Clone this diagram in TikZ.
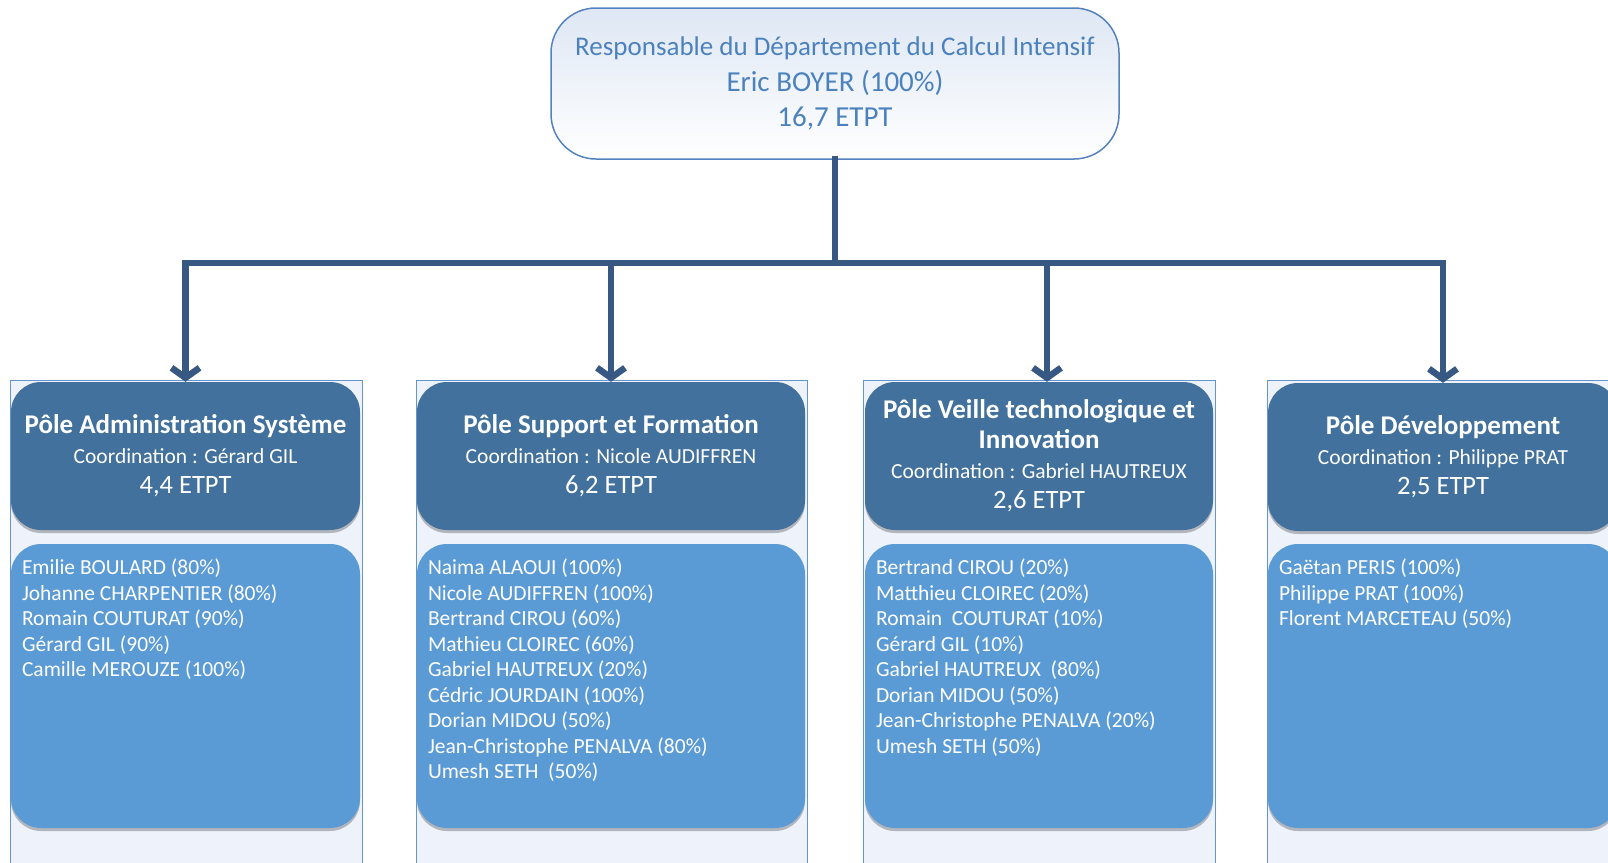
\documentclass[tikz,border=0pt]{standalone}
\usepackage{fontspec}
\setmainfont{Carlito}
\usetikzlibrary{arrows.meta,shadows}
\definecolor{poledark}{RGB}{65,113,156}
\definecolor{polelight}{RGB}{91,155,213}
\definecolor{framefill}{RGB}{238,242,250}
\definecolor{frameline}{RGB}{100,150,205}
\definecolor{linkblue}{RGB}{56,88,132}
\definecolor{topline}{RGB}{84,130,190}
\definecolor{toptext}{RGB}{75,130,190}
\definecolor{topshade}{RGB}{222,231,244}
\begin{document}
\begin{tikzpicture}[x=1pt,y=-1pt,
    topbox/.style={draw=topline,line width=1.5pt,rounded corners=45pt,top color=topshade,bottom color=white,
      minimum width=568pt,minimum height=151pt,inner sep=0pt,align=center,text=toptext,
      font=\fontsize{29}{35.5}\selectfont},
    frame/.style={draw=frameline,line width=1pt,fill=framefill,minimum height=500pt,inner sep=0pt},
    polehead/.style={fill=poledark,rounded corners=30pt,minimum height=148pt,inner sep=0pt,align=center,
      text=white,font=\fontsize{26.5}{30}\selectfont,
      drop shadow={shadow xshift=0pt,shadow yshift=-3pt,opacity=0.25,fill=black}},
    polebody/.style={fill=polelight,rounded corners=30pt,minimum height=284pt,inner sep=0pt,
      drop shadow={shadow xshift=0pt,shadow yshift=-3pt,opacity=0.25,fill=black}},
    names/.style={anchor=north west,inner sep=0pt,align=left,text=white,font=\fontsize{21.5}{25.5}\selectfont},
    link/.style={draw=linkblue,line width=6.5pt},
    tip/.style={-{Straight Barb[length=10pt,width=28pt]}}]
  \useasboundingbox (0,0) rectangle (1608,862);
  \clip (0,0) rectangle (1608,862);
  % top box
  \node[topbox] (top) at (835,83.5) {{\fontsize{27}{35.5}\selectfont Responsable du Département du Calcul Intensif}\\
    Eric BOYER (100\%)\\16,7 ETPT};
  % column frames
  \node[frame,minimum width=352pt] (frame1) at (186,630) {};
  \node[frame,minimum width=391pt] (frame2) at (611.5,630) {};
  \node[frame,minimum width=352pt] (frame3) at (1039,630) {};
  \node[frame,minimum width=352pt] (frame4) at (1443,630) {};
  % pole headers
  \node[polehead,minimum width=349pt] (head1) at (185.5,456) {{\bfseries\fontsize{27}{31}\selectfont Pôle Administration Système}\\
    {\fontsize{21.5}{30}\selectfont Coordination : Gérard GIL}\\4,4 ETPT};
  \node[polehead,minimum width=388pt] (head2) at (611,456) {{\bfseries\fontsize{27}{31}\selectfont Pôle Support et Formation}\\
    {\fontsize{21.5}{30}\selectfont Coordination : Nicole AUDIFFREN}\\6,2 ETPT};
  \node[polehead,minimum width=348pt] (head3) at (1039,456) {{\bfseries\fontsize{27}{31}\selectfont Pôle Veille technologique et}\\
    {\bfseries\fontsize{27}{31}\selectfont Innovation}\\{\fontsize{21.5}{30}\selectfont Coordination : Gabriel HAUTREUX}\\2,6 ETPT};
  \node[polehead,minimum width=350pt] (head4) at (1443,457) {{\bfseries\fontsize{27}{31}\selectfont Pôle Développement}\\
    {\fontsize{21.5}{30}\selectfont Coordination : Philippe PRAT}\\2,5 ETPT};
  % member boxes
  \node[polebody,minimum width=349pt] (body1) at (185.5,686) {};
  \node[polebody,minimum width=388pt] (body2) at (611,686) {};
  \node[polebody,minimum width=348pt] (body3) at (1039,686) {};
  \node[polebody,minimum width=350pt] (body4) at (1443,686) {};
  \node[names] (list1) at ([xshift=11pt,yshift=-15pt]body1.north west) {Emilie BOULARD (80\%)\\Johanne CHARPENTIER (80\%)\\
    Romain COUTURAT (90\%)\\Gérard GIL (90\%)\\Camille MEROUZE (100\%)};
  \node[names] (list2) at ([xshift=11pt,yshift=-15pt]body2.north west) {Naima ALAOUI (100\%)\\Nicole AUDIFFREN (100\%)\\
    Bertrand CIROU (60\%)\\Mathieu CLOIREC (60\%)\\Gabriel HAUTREUX (20\%)\\Cédric JOURDAIN (100\%)\\
    Dorian MIDOU (50\%)\\Jean-Christophe PENALVA (80\%)\\Umesh SETH\ \ (50\%)};
  \node[names] (list3) at ([xshift=11pt,yshift=-15pt]body3.north west) {Bertrand CIROU (20\%)\\Matthieu CLOIREC (20\%)\\
    Romain\ \ COUTURAT (10\%)\\Gérard GIL (10\%)\\Gabriel HAUTREUX\ \ (80\%)\\Dorian MIDOU (50\%)\\
    Jean-Christophe PENALVA (20\%)\\Umesh SETH (50\%)};
  \node[names] (list4) at ([xshift=11pt,yshift=-15pt]body4.north west) {Gaëtan PERIS (100\%)\\Philippe PRAT (100\%)\\
    Florent MARCETEAU (50\%)};
  % connectors
  \coordinate (bar) at (835,263);
  \draw[link] ([yshift=4pt]top.south) -- (bar);
  \draw[link,tip] (bar) -| (head1.north);
  \draw[link,tip] (bar) -| (head2.north);
  \draw[link,tip] (bar) -| ([xshift=8pt]head3.north);
  \draw[link,tip] (bar) -| (head4.north);
\end{tikzpicture}
\end{document}
